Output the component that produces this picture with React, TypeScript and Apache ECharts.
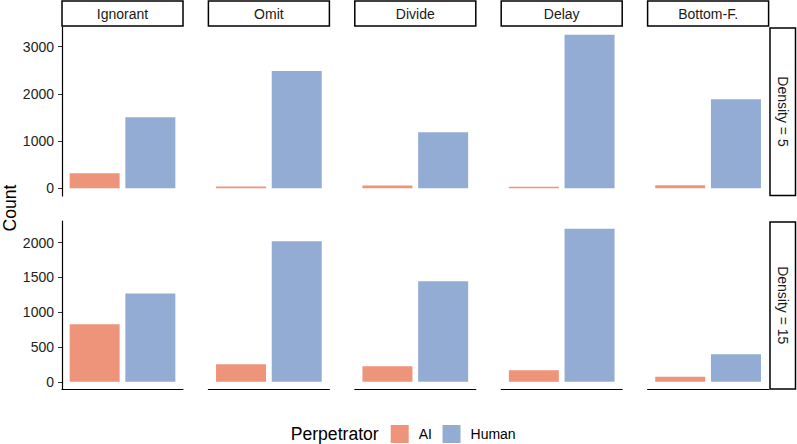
import React, { useEffect, useRef } from "react";
import * as echarts from "echarts";

// Facet columns (strategy) and rows (density)
const strategies = ["Ignorant", "Omit", "Divide", "Delay", "Bottom-F."];
const densityLabels = ["Density = 5", "Density = 15"];
const perpetrators = ["AI", "Human"];

// Counts per strategy, one array per perpetrator and density
const aiDensity5 = [318, 40, 62, 35, 66];
const humanDensity5 = [1504, 2485, 1186, 3254, 1886];
const aiDensity15 = [828, 254, 225, 168, 72];
const humanDensity15 = [1268, 2019, 1445, 2201, 397];

// Y tick labels per row
const ticksDensity5 = [0, 1000, 2000, 3000];
const ticksDensity15 = [0, 500, 1000, 1500, 2000];

const FONT = "'Liberation Sans', Arial, Helvetica, sans-serif";
const AI_COLOR = "#ED947A";
const HUMAN_COLOR = "#93ACD4";

export default function App() {
  const ref = useRef<HTMLDivElement>(null);

  useEffect(() => {
    if (!ref.current) return;
    const chart = echarts.init(ref.current, null, { renderer: "svg" });

    const colLeft = [62, 208.4, 354.8, 501.2, 647.6];
    const colWidth = 121;
    const rowTop = [27, 221];
    const rowHeight = [169, 168.5];

    const rows = [
      { ai: aiDensity5, human: humanDensity5, ticks: ticksDensity5 },
      { ai: aiDensity15, human: humanDensity15, ticks: ticksDensity15 },
    ];

    const grids: any[] = [];
    const xAxes: any[] = [];
    const yAxes: any[] = [];
    const series: any[] = [];
    const graphics: any[] = [];

    rows.forEach((row, r) => {
      // y scale shared along a row, padded by 5% of the range on both ends
      const rowMax = Math.max(...row.ai, ...row.human);
      const yMin = -rowMax * 0.05;
      const yMax = rowMax * 1.05;

      strategies.forEach((_, c) => {
        const idx = r * strategies.length + c;
        grids.push({
          left: colLeft[c],
          top: rowTop[r],
          width: colWidth,
          height: rowHeight[r],
          outerBoundsMode: "none",
          containLabel: false,
        });
        xAxes.push({
          type: "category",
          gridIndex: idx,
          data: ["x"],
          axisLabel: { show: false },
          axisTick: { show: false },
          axisLine: {
            show: r === 1,
            onZero: false,
            lineStyle: { color: "#000", width: 1.2 },
          },
          splitLine: { show: false },
        });
        yAxes.push({
          type: "value",
          gridIndex: idx,
          min: yMin,
          max: yMax,
          show: c === 0,
          axisLine: { show: true, lineStyle: { color: "#000", width: 1.2 } },
          axisTick: {
            show: true,
            length: 4,
            customValues: row.ticks,
            lineStyle: { color: "#333", width: 1 },
          },
          axisLabel: {
            show: true,
            customValues: row.ticks,
            formatter: (v: number) => String(v),
            margin: 8,
            fontSize: 14,
            fontFamily: FONT,
            color: "#222",
          },
          splitLine: { show: false },
        });
        series.push({
          type: "bar",
          name: perpetrators[0],
          xAxisIndex: idx,
          yAxisIndex: idx,
          data: [row.ai[c]],
          barWidth: 50,
          barGap: "11.4%",
          itemStyle: { color: AI_COLOR },
        });
        series.push({
          type: "bar",
          name: perpetrators[1],
          xAxisIndex: idx,
          yAxisIndex: idx,
          data: [row.human[c]],
          barWidth: 50,
          barGap: "11.4%",
          itemStyle: { color: HUMAN_COLOR },
        });
      });

      // row strip on the right
      graphics.push({
        type: "rect",
        shape: { x: 770, y: rowTop[r] + 1, width: 25.5, height: rowHeight[r] - 1.5 },
        style: { fill: "#fff", stroke: "#000", lineWidth: 1.5 },
      });
      graphics.push({
        type: "text",
        x: 783,
        y: rowTop[r] + rowHeight[r] / 2,
        rotation: -Math.PI / 2,
        style: {
          text: densityLabels[r],
          align: "center",
          verticalAlign: "middle",
          fontSize: 14,
          fontFamily: FONT,
          fill: "#1a1a1a",
        },
      });
    });

    // column strips on top
    strategies.forEach((name, c) => {
      graphics.push({
        type: "rect",
        shape: { x: colLeft[c], y: 1, width: colWidth, height: 25 },
        style: { fill: "#fff", stroke: "#000", lineWidth: 1.5 },
      });
      graphics.push({
        type: "text",
        x: colLeft[c] + colWidth / 2,
        y: 14,
        style: {
          text: name,
          align: "center",
          verticalAlign: "middle",
          fontSize: 14,
          fontFamily: FONT,
          fill: "#1a1a1a",
        },
      });
    });

    // y-axis title
    graphics.push({
      type: "text",
      x: 10,
      y: 208,
      rotation: Math.PI / 2,
      style: {
        text: "Count",
        align: "center",
        verticalAlign: "middle",
        fontSize: 17.6,
        fontFamily: FONT,
        fill: "#000",
      },
    });

    // legend title
    graphics.push({
      type: "text",
      x: 290.7,
      y: 434,
      style: {
        text: "Perpetrator",
        align: "left",
        verticalAlign: "middle",
        fontSize: 17.6,
        fontFamily: FONT,
        fill: "#000",
      },
    });

    chart.setOption({
      animation: false,
      backgroundColor: "#fff",
      grid: grids,
      xAxis: xAxes,
      yAxis: yAxes,
      series,
      legend: {
        data: perpetrators,
        left: 390.7,
        top: 425,
        padding: 0,
        itemWidth: 18,
        itemHeight: 18,
        itemGap: 10.6,
        icon: "rect",
        selectedMode: false,
        textStyle: {
          fontSize: 14,
          fontFamily: FONT,
          color: "#000",
          padding: [0, 0, 0, 5],
        },
      },
      graphic: graphics,
    });

    return () => chart.dispose();
  }, []);

  return (
    <div
      ref={ref}
      style={{ position: "absolute", left: 0, top: 0, width: 797, height: 444 }}
    />
  );
}
